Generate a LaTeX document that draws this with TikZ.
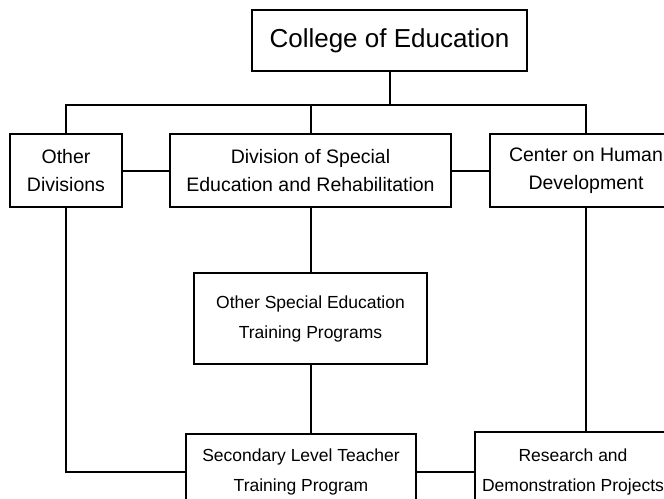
\documentclass[tikz,border=0pt]{standalone}
\usepackage{fontspec}
\setmainfont{Liberation Sans}
\usepackage{tikz}
\usetikzlibrary{positioning}

\begin{document}
\begin{tikzpicture}[
    x=1pt, y=-1pt,
    unit/.style={rectangle, draw, line width=2pt, align=center, inner sep=4pt},
    head/.style={unit, minimum width=275pt, minimum height=61pt, font=\fontsize{26}{30}\selectfont},
    dept/.style={unit, minimum height=73pt, font=\fontsize{19.5}{28}\selectfont},
    prog/.style={unit, font=\fontsize{17.5}{30}\selectfont},
    link/.style={line width=2pt}
]
\useasboundingbox (0,0) rectangle (664,498);
\clip (0,0) rectangle (664,498);

% Top
\node[head] (college) at (389.5,40.5) {College of Education};

% Divisions
\node[dept, minimum width=281pt] (division) at (310.5,170.5) {Division of Special\\Education and Rehabilitation};
\node[dept, minimum width=112pt, left=46pt of division] (otherdiv) {Other\\Divisions};
\node[dept, minimum width=192pt, right=37pt of division] (center) {Center on Human\\Development};

% Programs
\node[prog, minimum width=233pt, minimum height=91pt, below=64pt of division] (otherspecial) {Other Special Education\\Training Programs};
\node[prog, minimum width=230pt, minimum height=76pt, below=68pt of otherspecial, xshift=-9.5pt] (secondary) {Secondary Level Teacher\\Training Program};
\node[prog, minimum width=196pt, minimum height=80pt, right=57pt of secondary] (research) {Research and\\Demonstration Projects};

% Lines
\draw[link] (college.south) -- ++(0,33) coordinate (bus);
\draw[link] (otherdiv.north) |- (bus) -| (center.north);
\draw[link] (division.north) -- (division.north |- bus);

\draw[link] (otherdiv.east) -- (otherdiv.east -| division.west);
\draw[link] (division.east) -- (division.east -| center.west);

\draw[link] (division.south) -- (otherspecial.north);
\draw[link] (otherspecial.south) -- (otherspecial.south |- secondary.north);
\draw[link] (otherdiv.south) |- (secondary.west);
\draw[link] (secondary.east) -- (secondary.east -| research.west);
\draw[link] (center.south) -- (center.south |- research.north);

\end{tikzpicture}
\end{document}
